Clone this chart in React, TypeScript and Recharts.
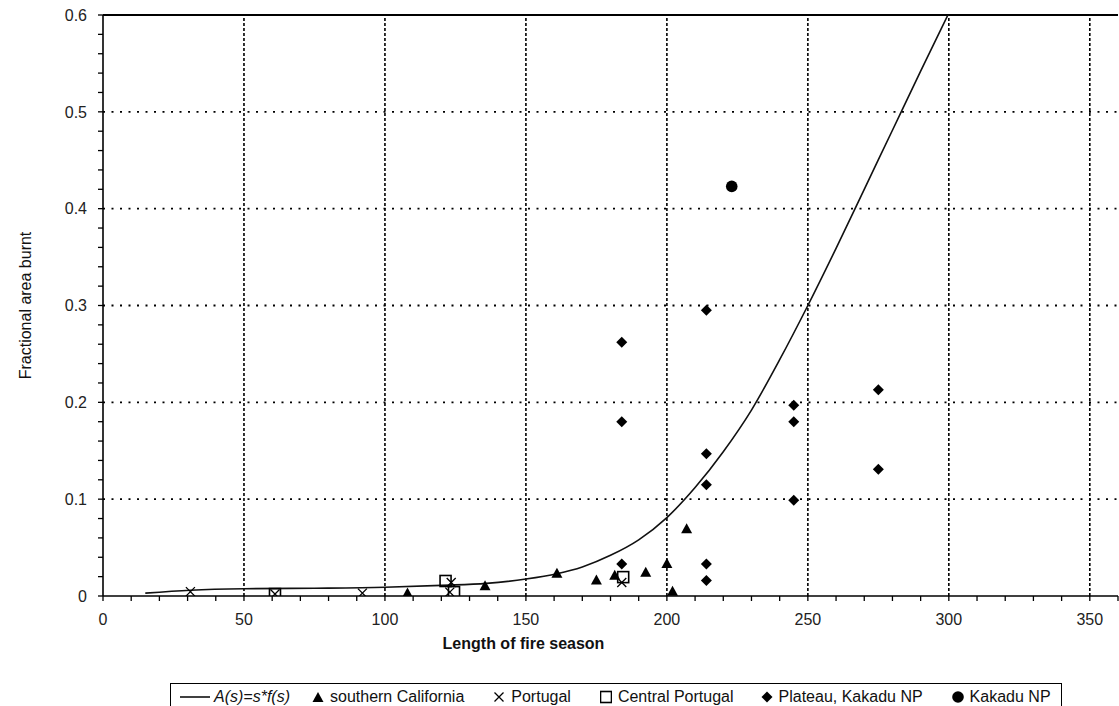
import React from "react";
import { ComposedChart, Line, Scatter, XAxis, YAxis, ReferenceLine, Legend } from "recharts";

const FONT = '"Liberation Sans", Arial, sans-serif';

// fitted curve A(s) = s*f(s)
const curveS = [15, 31, 50, 75, 100, 120, 136, 150, 161, 170, 180, 190, 200, 210, 220, 230, 240, 250, 260, 270, 280, 290, 300];
const curveA = [0.003, 0.006, 0.0075, 0.008, 0.009, 0.011, 0.013, 0.0175, 0.023, 0.03, 0.042, 0.058, 0.081, 0.112, 0.149, 0.192, 0.244, 0.3, 0.359, 0.42, 0.481, 0.542, 0.602];

// southern California
const calS = [108, 135.5, 161, 175, 181.5, 192.5, 200, 202, 207];
const calA = [0.0025, 0.01, 0.023, 0.016, 0.021, 0.024, 0.033, 0.0045, 0.069];

// Portugal
const porS = [31, 61, 92, 123.5, 123, 184];
const porA = [0.0045, 0.002, 0.003, 0.014, 0.004, 0.014];

// Central Portugal
const cenS = [61, 121.5, 124.5, 184.5];
const cenA = [0.002, 0.0155, 0.004, 0.0195];

// Plateau, Kakadu NP
const plaS = [184, 184, 184, 214, 214, 214, 214, 214, 245, 245, 245, 275, 275];
const plaA = [0.262, 0.18, 0.033, 0.295, 0.147, 0.115, 0.033, 0.016, 0.197, 0.18, 0.099, 0.213, 0.131];

// Kakadu NP
const kakS = [223];
const kakA = [0.423];

const xTicks = Array.from({ length: 37 }, (_, i) => i * 10);
const yTicks = Array.from({ length: 31 }, (_, i) => Math.round(i * 2) / 100);
const xGrid = [50, 100, 150, 200, 250, 300, 350];
const yGrid = [0.1, 0.2, 0.3, 0.4, 0.5];

const pts = (s: number[], a: number[]) => s.map((v, i) => ({ s: v, a: a[i] }));

const Tri = ({ cx, cy }: any) => (
  <path d={`M${cx},${cy - 6}L${cx + 5.5},${cy + 4}L${cx - 5.5},${cy + 4}Z`} fill="#000" />
);
const Cross = ({ cx, cy }: any) => (
  <path d={`M${cx - 4.5},${cy - 4.5}L${cx + 4.5},${cy + 4.5}M${cx + 4.5},${cy - 4.5}L${cx - 4.5},${cy + 4.5}`} stroke="#000" strokeWidth={1.3} fill="none" />
);
const Sq = ({ cx, cy }: any) => (
  <rect x={cx - 5.5} y={cy - 5.5} width={11} height={11} fill="none" stroke="#000" strokeWidth={1.6} />
);
const Dia = ({ cx, cy }: any) => (
  <path d={`M${cx},${cy - 5.5}L${cx + 5.5},${cy}L${cx},${cy + 5.5}L${cx - 5.5},${cy}Z`} fill="#000" />
);
const Dot = ({ cx, cy }: any) => <circle cx={cx} cy={cy} r={5.8} fill="#000" />;

const XTitle = ({ viewBox }: any) => (
  <text x={viewBox.x + viewBox.width / 2 - 87} y={viewBox.y + 53} textAnchor="middle"
    fontFamily={FONT} fontSize={16} fontWeight="bold" fill="#111">
    Length of fire season
  </text>
);

const YTitle = ({ viewBox }: any) => {
  const cy = viewBox.y + viewBox.height / 2;
  return (
    <text x={25} y={cy} transform={`rotate(-90 25 ${cy})`} textAnchor="middle" dominantBaseline="central"
      fontFamily={FONT} fontSize={16} fill="#111">
      Fractional area burnt
    </text>
  );
};

const icon = (el: React.ReactNode, w = 12) => (
  <svg width={w} height={14} style={{ marginRight: 6, flex: "none" }}>{el}</svg>
);

const item = { display: "flex", alignItems: "center", marginLeft: 29 } as const;

const LegendBox = () => (
  <div style={{
    width: 892, height: 30, boxSizing: "border-box", border: "1.5px solid #000",
    display: "flex", alignItems: "center", paddingLeft: 9, paddingBottom: 3,
    fontFamily: FONT, fontSize: 16, color: "#111", whiteSpace: "nowrap",
  }}>
    <span style={{ display: "flex", alignItems: "center" }}>
      <svg width={30} height={14} style={{ marginRight: 4, flex: "none" }}>
        <line x1={0} y1={7} x2={30} y2={7} stroke="#000" strokeWidth={1.5} />
      </svg>
      <i>A(s)=s*f(s)</i>
    </span>
    <span style={{ ...item, marginLeft: 22 }}>{icon(<Tri cx={6} cy={8} />)}southern California</span>
    <span style={item}>{icon(<Cross cx={6} cy={7} />)}Portugal</span>
    <span style={item}>{icon(<Sq cx={6} cy={7} />)}Central Portugal</span>
    <span style={{ ...item, marginLeft: 27 }}>{icon(<Dia cx={6} cy={7} />)}Plateau, Kakadu NP</span>
    <span style={item}>{icon(<Dot cx={6} cy={7} />)}Kakadu NP</span>
  </div>
);

const tickStyle = { fontFamily: FONT, fontSize: 16, fill: "#222" };

export default function App() {
  return (
    <div style={{ position: "fixed", left: 0, top: 0, width: 1119, height: 706, overflow: "hidden", background: "#fff" }}>
      <ComposedChart width={1119} height={713} margin={{ top: 15, right: 1, left: 0, bottom: 0 }}>
        <XAxis
          type="number"
          dataKey="s"
          domain={[0, 360]}
          ticks={xTicks}
          interval={0}
          allowDataOverflow
          tickFormatter={(v: number) => (v % 50 === 0 && v <= 350 ? String(v) : "")}
          tick={tickStyle}
          tickSize={5}
          tickMargin={13}
          height={87}
          axisLine={{ stroke: "#000", strokeWidth: 1.6 }}
          tickLine={{ stroke: "#000", strokeWidth: 1.3 }}
          label={<XTitle />}
        />
        <YAxis
          type="number"
          dataKey="a"
          domain={[0, 0.6]}
          ticks={yTicks}
          interval={0}
          allowDataOverflow
          tickFormatter={(v: number) =>
            Math.abs(v * 10 - Math.round(v * 10)) < 1e-6 ? (v === 0 ? "0" : v.toFixed(1)) : ""
          }
          tick={tickStyle}
          tickSize={5}
          tickMargin={11}
          width={103}
          axisLine={{ stroke: "#000", strokeWidth: 1.6 }}
          tickLine={{ stroke: "#000", strokeWidth: 1.3 }}
          label={<YTitle />}
        />
        {xGrid.map((x) => (
          <ReferenceLine key={"x" + x} x={x} stroke="#000" strokeWidth={1.6} strokeDasharray="3 2" />
        ))}
        {yGrid.map((y) => (
          <ReferenceLine key={"y" + y} y={y} stroke="#000" strokeWidth={1.8} strokeDasharray="2 6.5" />
        ))}
        <ReferenceLine y={0.6} stroke="#000" strokeWidth={1.8} />
        <Line data={pts(curveS, curveA)} dataKey="a" type="monotone" stroke="#111" strokeWidth={1.6}
          dot={false} isAnimationActive={false} name="A(s)=s*f(s)" />
        <Scatter data={pts(calS, calA)} dataKey="a" shape={Tri} isAnimationActive={false} name="southern California" />
        <Scatter data={pts(porS, porA)} dataKey="a" shape={Cross} isAnimationActive={false} name="Portugal" />
        <Scatter data={pts(cenS, cenA)} dataKey="a" shape={Sq} isAnimationActive={false} name="Central Portugal" />
        <Scatter data={pts(plaS, plaA)} dataKey="a" shape={Dia} isAnimationActive={false} name="Plateau, Kakadu NP" />
        <Scatter data={pts(kakS, kakA)} dataKey="a" shape={Dot} isAnimationActive={false} name="Kakadu NP" />
        <Legend verticalAlign="bottom" height={30} wrapperStyle={{ left: 170 }} content={<LegendBox />} />
      </ComposedChart>
    </div>
  );
}
